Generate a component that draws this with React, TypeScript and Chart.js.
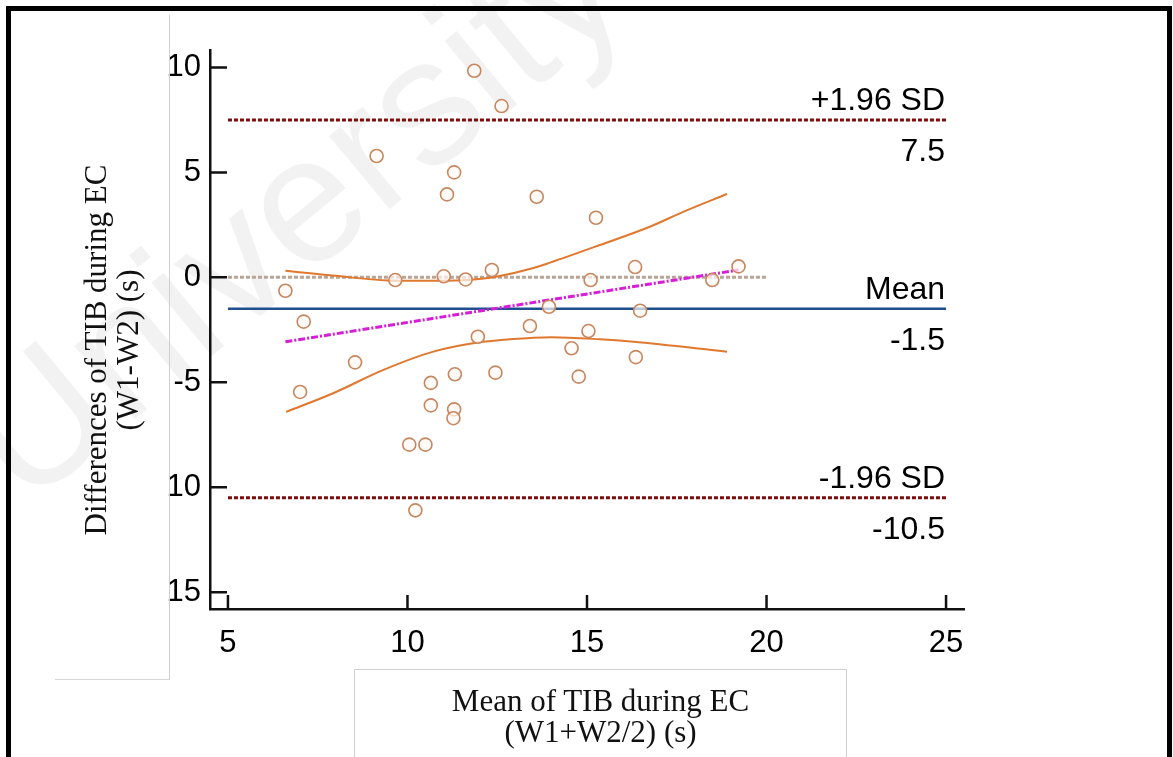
import React, { useEffect, useRef } from "react";
import { Chart, registerables } from "chart.js";

Chart.register(...registerables);

// ---- data ----
const pointX = [11.86, 12.62, 9.14, 11.30, 11.10, 13.60, 15.25, 12.35, 9.66, 11.01, 11.62, 15.10, 6.60, 7.11, 13.94, 13.41, 11.96, 15.04, 14.57, 8.54, 11.32, 12.45, 14.77, 10.65, 7.01, 10.65, 11.30, 11.28, 10.05, 10.50, 10.22, 16.34, 18.49, 19.22, 16.48, 16.36];
const pointY = [9.84, 8.16, 5.78, 5.0, 3.95, 3.84, 2.84, 0.35, -0.13, 0.05, -0.1, -0.13, -0.64, -2.11, -1.4, -2.32, -2.83, -2.56, -3.38, -4.05, -4.62, -4.54, -4.73, -5.03, -5.46, -6.10, -6.29, -6.71, -7.97, -7.97, -11.1, 0.49, -0.13, 0.52, -1.59, -3.80];

const upperBandX = [6.6, 8.0, 9.66, 11.0, 12.3, 13.48, 13.97, 15.36, 16.75, 17.68, 18.9];
const upperBandY = [0.31, 0.07, -0.16, -0.16, -0.02, 0.43, 0.70, 1.54, 2.41, 3.12, 3.97];
const lowerBandX = [6.62, 7.93, 9.33, 10.72, 12.11, 13.5, 14.0, 15.36, 16.29, 18.9];
const lowerBandY = [-6.41, -5.52, -4.41, -3.54, -3.07, -2.88, -2.85, -2.95, -3.07, -3.54];

const regressionX = [6.6, 19.22];
const regressionY = [-3.07, 0.35];

const zeroLineX = [5, 20];
const limitLineX = [5, 25];
const limitValues = [7.5, -1.5, -10.5];
const limitTitles = ["+1.96 SD", "Mean", "-1.96 SD"];
const limitValueLabels = ["7.5", "-1.5", "-10.5"];

const xTickValues = [5, 10, 15, 20, 25];
const xTickLabels = ["5", "10", "15", "20", "25"];
const yTickValues = [-15, -10, -5, 0, 5, 10];
const yTickLabels = ["15", "10", "-5", "0", "5", "10"];

const X_MIN = 4.5;
const X_MAX = 25.5;
const Y_MIN = -15.8;
const Y_MAX = 10.83;

const SANS = '"Liberation Sans", Arial, sans-serif';
const SERIF = '"Liberation Serif", "Times New Roman", serif';

const toXY = (xs: number[], ys: number[]) => xs.map((x, i) => ({ x, y: ys[i] }));

export default function App() {
  const ref = useRef<HTMLCanvasElement | null>(null);

  useEffect(() => {
    if (!ref.current) return;

    const watermark = {
      id: "watermark",
      beforeDraw(chart: any) {
        const ctx = chart.ctx;
        ctx.save();
        ctx.translate(25, 510);
        ctx.rotate((-39.5 * Math.PI) / 180);
        ctx.font = `180px ${SANS}`;
        ctx.fillStyle = "rgba(0,0,0,0.05)";
        ctx.textBaseline = "alphabetic";
        ctx.fillText("University", 0, 0);
        ctx.restore();
      },
    };

    const inwardTicks = {
      id: "inwardTicks",
      afterDraw(chart: any) {
        const ctx = chart.ctx;
        const xs = chart.scales.x;
        const ys = chart.scales.y;
        const { left, bottom } = chart.chartArea;
        ctx.save();
        ctx.strokeStyle = "#111";
        ctx.lineWidth = 2.5;
        ctx.beginPath();
        yTickValues.forEach((v) => {
          const py = ys.getPixelForValue(v);
          ctx.moveTo(left, py);
          ctx.lineTo(left + 17, py);
        });
        xTickValues.forEach((v) => {
          const px = xs.getPixelForValue(v);
          ctx.moveTo(px, bottom);
          ctx.lineTo(px, bottom - 14);
        });
        ctx.stroke();
        ctx.restore();
      },
    };

    const limitLabels = {
      id: "limitLabels",
      afterDatasetsDraw(chart: any) {
        const ctx = chart.ctx;
        const xs = chart.scales.x;
        const ys = chart.scales.y;
        const rx = xs.getPixelForValue(limitLineX[1]) - 1;
        ctx.save();
        ctx.font = `32px ${SANS}`;
        ctx.fillStyle = "#000";
        ctx.textAlign = "right";
        ctx.textBaseline = "alphabetic";
        limitValues.forEach((v, i) => {
          const py = ys.getPixelForValue(v);
          ctx.fillText(limitTitles[i], rx, py - 10);
          ctx.fillText(limitValueLabels[i], rx, py + 41);
        });
        ctx.restore();
      },
    };

    const lineDs = (data: any[], color: string, width: number, dash: number[], order: number, tension = 0) => ({
      type: "line" as const,
      data,
      borderColor: color,
      backgroundColor: color,
      borderWidth: width,
      borderDash: dash,
      pointRadius: 0,
      fill: false,
      tension,
      cubicInterpolationMode: tension ? ("monotone" as const) : ("default" as const),
      order,
    });

    const chart = new Chart(ref.current, {
      type: "scatter",
      data: {
        datasets: [
          {
            type: "scatter",
            data: toXY(pointX, pointY),
            pointRadius: 6.5,
            pointBorderWidth: 1.6,
            borderColor: "#c8865e",
            backgroundColor: "rgba(255,250,245,0.7)",
            order: 0,
          } as any,
          lineDs(toXY(limitLineX, [limitValues[0], limitValues[0]]), "#7d0c0c", 3, [4, 2], 5),
          lineDs(toXY(limitLineX, [limitValues[2], limitValues[2]]), "#7d0c0c", 3, [4, 2], 5),
          lineDs(toXY(limitLineX, [limitValues[1], limitValues[1]]), "#1f4f8e", 2.5, [], 4),
          lineDs(toXY(zeroLineX, [0, 0]), "#b9a596", 3, [4, 2], 6),
          lineDs(toXY(regressionX, regressionY), "#d61ed6", 3, [7, 2, 2, 2], 3),
          lineDs(toXY(upperBandX, upperBandY), "#e0782e", 2, [], 2, 0.4),
          lineDs(toXY(lowerBandX, lowerBandY), "#e0782e", 2, [], 2, 0.4),
        ] as any,
      },
      options: {
        animation: false,
        responsive: false,
        maintainAspectRatio: false,
        layout: { padding: { top: 50, right: 209, bottom: 0, left: 0 } },
        plugins: {
          legend: { display: false },
          tooltip: { enabled: false },
        },
        scales: {
          x: {
            type: "linear",
            min: X_MIN,
            max: X_MAX,
            grid: { display: false },
            border: { display: true, color: "#111", width: 2.5 },
            afterBuildTicks: (scale: any) => {
              scale.ticks = xTickValues.map((v) => ({ value: v }));
            },
            afterFit: (scale: any) => {
              scale.height = 148;
            },
            ticks: {
              padding: 8,
              color: "#000",
              font: { family: SANS, size: 31 },
              callback: (v: any) => {
                const i = xTickValues.indexOf(Number(v));
                return i >= 0 ? xTickLabels[i] : "";
              },
            },
          },
          y: {
            type: "linear",
            min: Y_MIN,
            max: Y_MAX,
            grid: { display: false },
            border: { display: true, color: "#111", width: 2.5 },
            afterBuildTicks: (scale: any) => {
              scale.ticks = yTickValues.map((v) => ({ value: v }));
            },
            afterFit: (scale: any) => {
              scale.width = 210;
            },
            ticks: {
              padding: 1,
              color: "#000",
              font: { family: SANS, size: 31 },
              callback: (v: any) => {
                const i = yTickValues.indexOf(Number(v));
                return i >= 0 ? yTickLabels[i] : "";
              },
            },
          },
        },
      },
      plugins: [watermark, inwardTicks, limitLabels],
    });

    return () => chart.destroy();
  }, []);

  return (
    <div
      style={{
        position: "fixed",
        left: 0,
        top: 0,
        width: 1173,
        height: 757,
        overflow: "hidden",
        background: "#fff",
      }}
    >
      <canvas
        ref={ref}
        width={1173}
        height={757}
        style={{ position: "absolute", left: 0, top: 0, width: 1173, height: 757 }}
      />
      {/* y title box */}
      <div
        style={{
          position: "absolute",
          left: 55,
          top: 15,
          width: 115,
          height: 665,
          borderRight: "1px solid #cfcfcf",
          borderBottom: "1px solid #d8d8d8",
          boxSizing: "border-box",
        }}
      />
      <div
        style={{
          position: "absolute",
          left: 112 - 200,
          top: 350 - 32,
          width: 400,
          height: 64,
          transform: "rotate(-90deg)",
          transformOrigin: "50% 50%",
          textAlign: "center",
          fontFamily: SERIF,
          fontSize: 31,
          lineHeight: "32px",
          color: "#111",
          whiteSpace: "nowrap",
        }}
      >
        Differences of TIB during EC
        <br />
        (W1-W2) (s)
      </div>
      {/* x title box */}
      <div
        style={{
          position: "absolute",
          left: 354,
          top: 669,
          width: 493,
          height: 120,
          border: "1px solid #cfcfcf",
          boxSizing: "border-box",
        }}
      />
      <div
        style={{
          position: "absolute",
          left: 354,
          top: 685,
          width: 493,
          textAlign: "center",
          fontFamily: SERIF,
          fontSize: 31,
          lineHeight: "31px",
          color: "#111",
          whiteSpace: "nowrap",
        }}
      >
        Mean of TIB during EC
        <br />
        (W1+W2/2) (s)
      </div>
      {/* outer frame */}
      <div
        style={{
          position: "absolute",
          left: 6,
          top: 6,
          width: 1166,
          height: 820,
          border: "5px solid #000",
          boxSizing: "border-box",
        }}
      />
    </div>
  );
}
